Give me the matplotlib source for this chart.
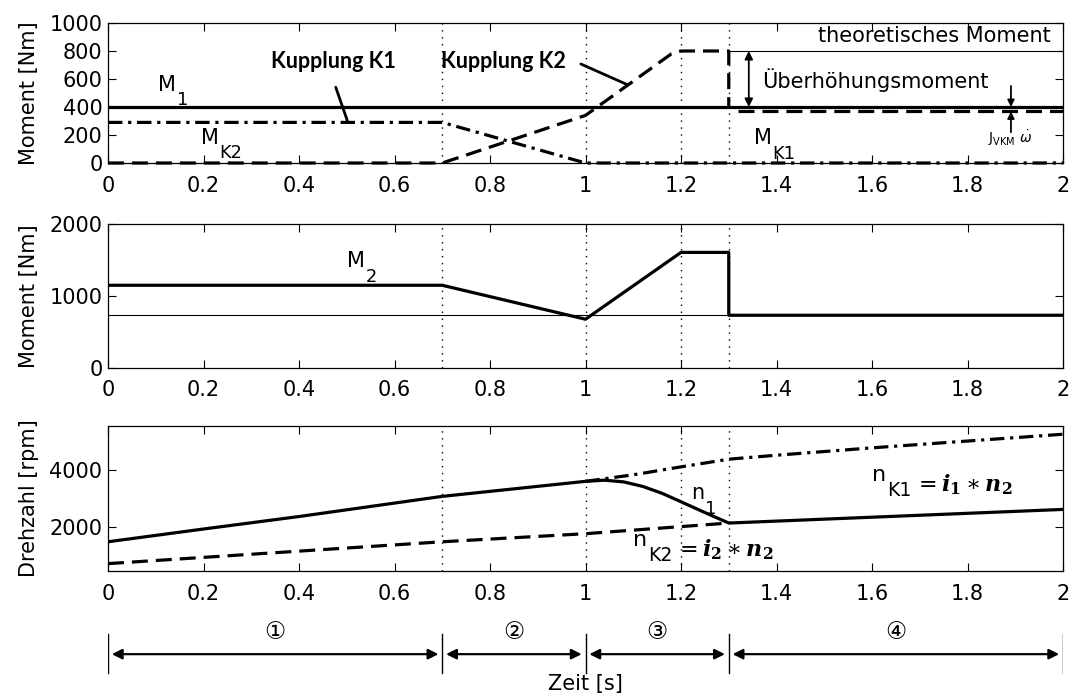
import matplotlib
matplotlib.use("Agg")
import matplotlib.pyplot as plt
from matplotlib.ticker import FormatStrFormatter, MultipleLocator

# phase boundaries [s]
phase_bounds = [0.0, 0.7, 1.0, 1.3, 2.0]
marks = [0.7, 1.0, 1.2, 1.3]
phase_names = ["\u2460", "\u2461", "\u2462", "\u2463"]

# top panel: torques [Nm]
t_m1 = [0.0, 2.0]
m1 = [400, 400]
t_mk1 = [0.0, 0.7, 1.0, 2.0]
mk1 = [290, 290, 0, 0]
t_mk2 = [0.0, 0.7, 1.0, 1.18, 1.2, 1.3, 1.3]
mk2 = [0, 0, 340, 780, 800, 800, 400]
t_mk2_end = [1.32, 2.0]
mk2_end = [368, 368]
t_theo = [1.3, 2.0]
theo = [800, 800]

# middle panel: output torque [Nm]
t_m2 = [0.0, 0.7, 1.0, 1.2, 1.3, 1.3, 2.0]
m2 = [1145, 1145, 675, 1600, 1600, 730, 730]
t_m2_ref = [0.0, 2.0]
m2_ref = [730, 730]

# bottom panel: speeds [rpm]
t_n1 = [0.0, 0.2, 0.4, 0.7, 1.0, 1.04, 1.08, 1.12, 1.16, 1.2, 1.25, 1.3, 2.0]
n1 = [1480, 1930, 2370, 3080, 3610, 3650, 3590, 3430, 3190, 2890, 2510, 2140, 2620]
t_nk1 = [1.0, 1.1, 1.2, 1.3, 1.4, 1.6, 1.8, 2.0]
nk1 = [3610, 3840, 4120, 4390, 4530, 4790, 5030, 5270]
t_nk2 = [0.0, 0.4, 0.7, 1.0, 1.3]
nk2 = [710, 1150, 1480, 1765, 2140]

plt.rcParams['font.family'] = ['DejaVu Sans']
FS = 15
LW = 2.3

fig = plt.figure(figsize=(10.73, 6.98), dpi=100)
L, W = 108 / 1073, 955 / 1073
ax1 = fig.add_axes([L, 1 - 163 / 698, W, 140 / 698])
ax2 = fig.add_axes([L, 1 - 368 / 698, W, 144.5 / 698])
ax3 = fig.add_axes([L, 1 - 571 / 698, W, 145 / 698])
ax4 = fig.add_axes([L, 1 - 682 / 698, W, 58 / 698])

dash = (5, 2.5)
dashdot = (4.5, 1.8, 1, 1.8)


def sublabel(ax, x, y, main, sub, tail=None, fs=FS):
    # big letter with a large, low subscript like in the original figure
    t = ax.text(x, y, main, fontsize=fs, va='center')
    s = ax.annotate(sub, xy=(1, 0), xycoords=t, xytext=(0.5, -4),
                    textcoords='offset points', fontsize=fs * 0.85, va='center')
    if tail is not None:
        ax.annotate(tail, xy=(1, 0.5), xycoords=s, xytext=(2, 4),
                    textcoords='offset points', fontsize=fs, va='center',
                    math_fontfamily='dejavuserif')


for ax in (ax1, ax2, ax3):
    ax.set_xlim(0, 2)
    ax.xaxis.set_major_locator(MultipleLocator(0.2))
    ax.xaxis.set_major_formatter(FormatStrFormatter('%g'))
    ax.tick_params(direction='in', top=True, right=True, length=6, width=0.8,
                   labelsize=FS)
    ax.tick_params(axis='x', pad=9)
    ax.tick_params(axis='y', pad=4)
    for s in ax.spines.values():
        s.set_linewidth(0.9)
    for x in marks:
        ax.axvline(x, color='k', lw=1.0, ls=(0, (1, 4)))
    ax.yaxis.set_label_coords(-0.072, 0.5)

# --- top panel
ax1.set_ylim(0, 1000)
ax1.set_yticks([0, 200, 400, 600, 800, 1000])
ax1.plot(t_m1, m1, color='k', lw=LW)
ax1.plot(t_mk1, mk1, color='k', lw=LW, ls=(0, dashdot), clip_on=False)
ax1.plot(t_mk2, mk2, color='k', lw=LW, ls=(0, dash), clip_on=False)
ax1.plot(t_mk2_end, mk2_end, color='k', lw=LW, ls=(0, dash))
ax1.plot(t_theo, theo, color='k', lw=0.8)
ax1.set_ylabel('Moment [Nm]', fontsize=FS)

sublabel(ax1, 0.105, 560, 'M', '1')
sublabel(ax1, 0.195, 180, 'M', 'K2')
sublabel(ax1, 1.352, 175, 'M', 'K1')
ax1.text(1.975, 905, 'theoretisches Moment', fontsize=FS, ha='right', va='center')
ax1.text(1.37, 592, '\u00dcberh\u00f6hungsmoment', fontsize=FS, va='center')
ax1.annotate('', xy=(1.342, 400), xytext=(1.342, 800),
             arrowprops=dict(arrowstyle='<|-|>', color='k', lw=1.3,
                             mutation_scale=12, shrinkA=0, shrinkB=0))
ax1.annotate('', xy=(1.891, 400), xytext=(1.891, 550),
             arrowprops=dict(arrowstyle='-|>', color='k', lw=1.3,
                             mutation_scale=10, shrinkA=0, shrinkB=0))
ax1.annotate('', xy=(1.891, 368), xytext=(1.891, 220),
             arrowprops=dict(arrowstyle='-|>', color='k', lw=1.3,
                             mutation_scale=10, shrinkA=0, shrinkB=0))
ax1.text(1.89, 175, r'$\mathregular{J_{VKM}}\ \dot{\omega}$', fontsize=10,
         ha='center', va='center')

ax1.text(0.473, 725, 'Kupplung K1', fontsize=15.5, fontweight='bold',
         family=['Lato', 'DejaVu Sans'], ha='center', va='center')
ax1.annotate('', xy=(0.503, 285), xytext=(0.475, 560),
             arrowprops=dict(arrowstyle='-', color='k', lw=2))
ax1.text(0.828, 725, 'Kupplung K2', fontsize=15.5, fontweight='bold',
         family=['Lato', 'DejaVu Sans'], ha='center', va='center')
ax1.annotate('', xy=(1.094, 550), xytext=(0.985, 715),
             arrowprops=dict(arrowstyle='-', color='k', lw=2))

# --- middle panel
ax2.set_ylim(0, 2000)
ax2.set_yticks([0, 1000, 2000])
ax2.plot(t_m2_ref, m2_ref, color='k', lw=0.8)
ax2.plot(t_m2, m2, color='k', lw=LW)
ax2.set_ylabel('Moment [Nm]', fontsize=FS)
sublabel(ax2, 0.50, 1480, 'M', '2')

# --- bottom panel
ax3.set_ylim(450, 5560)
ax3.set_yticks([2000, 4000])
ax3.plot(t_nk2, nk2, color='k', lw=LW, ls=(0, dash))
ax3.plot(t_nk1, nk1, color='k', lw=LW, ls=(0, dashdot))
ax3.plot(t_n1, n1, color='k', lw=LW)
ax3.set_ylabel('Drehzahl [rpm]', fontsize=FS)
sublabel(ax3, 1.222, 3200, 'n', '1')
sublabel(ax3, 1.10, 1550, 'n', 'K2',
         r'$= \mathbfit{i}_{\mathbf{2}} \ast \mathbfit{n}_{\mathbf{2}}$', fs=16)
sublabel(ax3, 1.60, 3850, 'n', 'K1',
         r'$= \mathbfit{i}_{\mathbf{1}} \ast \mathbfit{n}_{\mathbf{2}}$', fs=16)

# --- phase arrows
ax4.set_xlim(0, 2)
ax4.set_ylim(0, 1)
ax4.axis('off')
for b in phase_bounds:
    ax4.plot([b, b], [0.15, 0.82], color='k', lw=1.0)
for a, b, name in zip(phase_bounds[:-1], phase_bounds[1:], phase_names):
    ax4.annotate('', xy=(b - 0.008, 0.48), xytext=(a + 0.008, 0.48),
                 arrowprops=dict(arrowstyle='<|-|>', color='k', lw=1.6,
                                 mutation_scale=15, shrinkA=0, shrinkB=0))
    ax4.text((a + b) / 2, 0.86, name, fontsize=17, ha='center', va='center',
             family=['DejaVu Sans', 'Noto Sans CJK SC'])

fig.text(585 / 1073, 1 - 684 / 698, 'Zeit [s]', fontsize=FS, ha='center', va='center')

fig.savefig('out.png', dpi=100)
